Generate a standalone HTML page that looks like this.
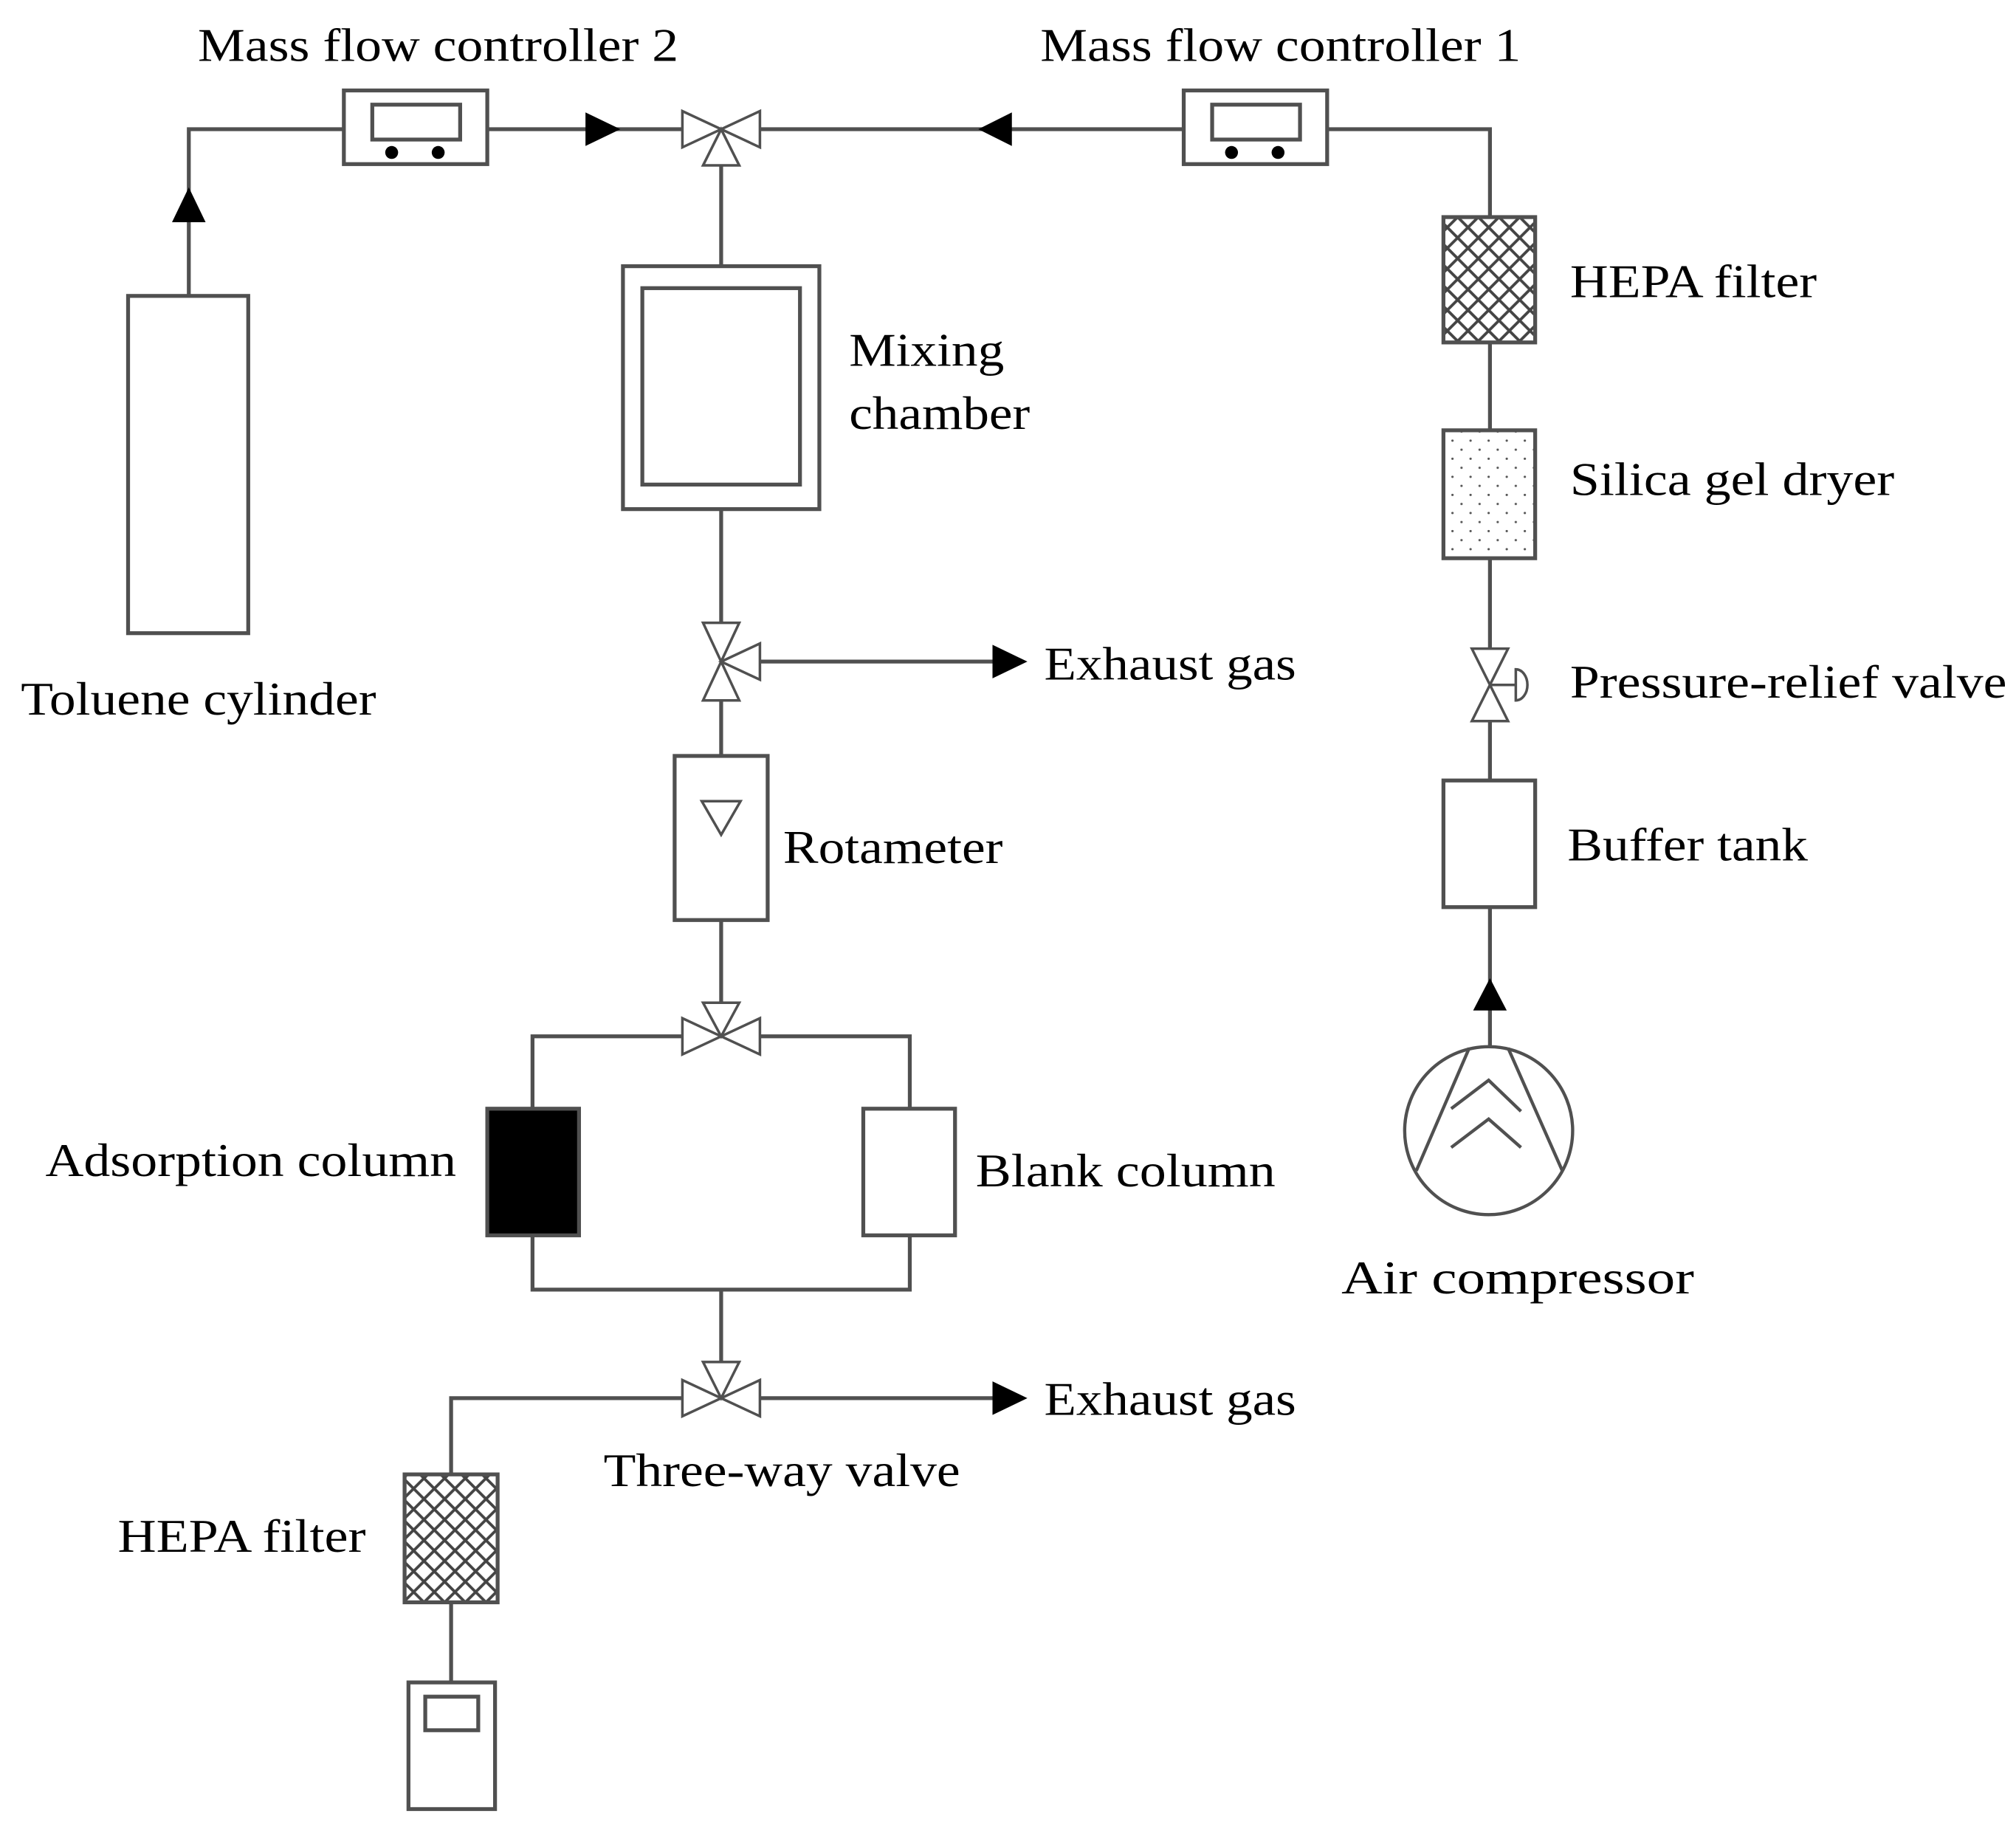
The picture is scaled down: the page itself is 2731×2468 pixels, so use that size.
<!DOCTYPE html>
<html><head><meta charset="utf-8"><style>html,body{margin:0;padding:0;background:#fff}svg{display:block}
svg text{font-family:"Liberation Serif","Times New Roman",serif;}</style></head>
<body>
<svg width="2731" height="2468" viewBox="0 0 1560 1410" xmlns="http://www.w3.org/2000/svg">
<defs>
<pattern id="hatch" width="16" height="16" patternUnits="userSpaceOnUse">
<path d="M0,0 L16,16 M16,0 L0,16" stroke="#444" stroke-width="2.2"/>
</pattern>
<pattern id="dots" width="14" height="14" patternUnits="userSpaceOnUse">
<circle cx="4" cy="5" r="0.9" fill="#555"/><circle cx="11" cy="12" r="0.9" fill="#555"/>
</pattern>
</defs>
<g stroke="#505050" stroke-width="3" fill="none">
<rect x="99" y="229" width="93" height="261" fill="#fff"/>
<polyline points="146,229 146,100 266,100"/>
<rect x="266" y="70" width="111" height="57"/>
<rect x="288" y="81" width="68" height="27"/>
<line x1="377" y1="100" x2="528" y2="100"/>
<path d="M528,86 L528,114 L588,86 L588,114 Z" stroke-width="2"/>
<path d="M558,100 L544,128 L572,128 Z" stroke-width="2"/>
<line x1="588" y1="100" x2="916" y2="100"/>
<rect x="916" y="70" width="111" height="57"/>
<rect x="938" y="81" width="68" height="27"/>
<polyline points="1027,100 1153,100 1153,168"/>
<rect x="1117" y="168" width="71" height="97" fill="url(#hatch)"/>
<line x1="1153" y1="265" x2="1153" y2="333"/>
<rect x="1117" y="333" width="71" height="99" fill="url(#dots)"/>
<line x1="1153" y1="432" x2="1153" y2="502"/>
<path d="M1139,502 L1167,502 L1139,558 L1167,558 Z" stroke-width="2"/>
<line x1="1153" y1="530" x2="1173" y2="530" stroke-width="2"/>
<path d="M1173,518 A9,12 0 0 1 1173,542 Z" stroke-width="2"/>
<line x1="1153" y1="558" x2="1153" y2="604"/>
<rect x="1117" y="604" width="71" height="98"/>
<line x1="1153" y1="702" x2="1153" y2="810"/>
<circle cx="1152" cy="875" r="65" stroke-width="2.5"/>
<path d="M1137,811 L1096,906 M1167,811 L1209,906 M1123,858 L1152,836 L1177,860 M1123,888 L1152,866 L1177,888" stroke-width="2.5"/>
<line x1="558" y1="128" x2="558" y2="206"/>
<rect x="482" y="206" width="152" height="188"/>
<rect x="497" y="223" width="122" height="152"/>
<line x1="558" y1="394" x2="558" y2="482"/>
<path d="M544,482 L572,482 L544,542 L572,542 Z" stroke-width="2"/>
<path d="M558,512 L588,498 L588,526 Z" stroke-width="2"/>
<line x1="588" y1="512" x2="770" y2="512"/>
<line x1="558" y1="542" x2="558" y2="585"/>
<rect x="522" y="585" width="72" height="127"/>
<path d="M543,620 L573,620 L558,646 Z" stroke-width="2"/>
<line x1="558" y1="712" x2="558" y2="776"/>
<path d="M528,788 L528,816 L588,788 L588,816 Z" stroke-width="2"/>
<path d="M558,802 L544,776 L572,776 Z" stroke-width="2"/>
<polyline points="528,802 412,802 412,858"/>
<polyline points="588,802 704,802 704,858"/>
<rect x="377" y="858" width="71" height="98" fill="#000"/>
<rect x="668" y="858" width="71" height="98"/>
<polyline points="412,956 412,998 704,998 704,956"/>
<line x1="558" y1="998" x2="558" y2="1054"/>
<path d="M528,1068 L528,1096 L588,1068 L588,1096 Z" stroke-width="2"/>
<path d="M558,1082 L544,1054 L572,1054 Z" stroke-width="2"/>
<line x1="588" y1="1082" x2="770" y2="1082"/>
<polyline points="528,1082 349,1082 349,1141"/>
<rect x="313" y="1141" width="72" height="99" fill="url(#hatch)"/>
<line x1="349" y1="1240" x2="349" y2="1302"/>
<rect x="316" y="1302" width="67" height="98"/>
<rect x="329" y="1313" width="41" height="26"/>
</g>
<g fill="#000">
<circle cx="303" cy="118" r="5"/><circle cx="339" cy="118" r="5"/>
<circle cx="953" cy="118" r="5"/><circle cx="989" cy="118" r="5"/>
<path d="M146,145 L133,172 L159,172 Z"/>
<path d="M480,100 L453,87 L453,113 Z"/>
<path d="M757,100 L783,87 L783,113 Z"/>
<path d="M1153,757 L1140,782 L1166,782 Z"/>
<path d="M795,512 L768,499 L768,525 Z"/>
<path d="M795,1082 L768,1069 L768,1095 Z"/>
</g>
<g style="font-family:'Liberation Serif','Times New Roman',serif;font-size:36px" fill="#000">
<text x="153" y="47" textLength="372" lengthAdjust="spacingAndGlyphs">Mass flow controller 2</text>
<text x="805" y="47" textLength="372" lengthAdjust="spacingAndGlyphs">Mass flow controller 1</text>
<text x="1215" y="230" textLength="191" lengthAdjust="spacingAndGlyphs">HEPA filter</text>
<text x="657" y="283" textLength="120" lengthAdjust="spacingAndGlyphs">Mixing</text>
<text x="657" y="332" textLength="140" lengthAdjust="spacingAndGlyphs">chamber</text>
<text x="1215" y="383" textLength="251" lengthAdjust="spacingAndGlyphs">Silica gel dryer</text>
<text x="808" y="526" textLength="195" lengthAdjust="spacingAndGlyphs">Exhaust gas</text>
<text x="1215" y="540" textLength="338" lengthAdjust="spacingAndGlyphs">Pressure-relief valve</text>
<text x="16" y="553" textLength="275" lengthAdjust="spacingAndGlyphs">Toluene cylinder</text>
<text x="606" y="668" textLength="170" lengthAdjust="spacingAndGlyphs">Rotameter</text>
<text x="1213" y="666" textLength="186" lengthAdjust="spacingAndGlyphs">Buffer tank</text>
<text x="35" y="910" textLength="318" lengthAdjust="spacingAndGlyphs">Adsorption column</text>
<text x="755" y="918" textLength="232" lengthAdjust="spacingAndGlyphs">Blank column</text>
<text x="1038" y="1001" textLength="273" lengthAdjust="spacingAndGlyphs">Air compressor</text>
<text x="808" y="1095" textLength="195" lengthAdjust="spacingAndGlyphs">Exhaust gas</text>
<text x="467" y="1150" textLength="276" lengthAdjust="spacingAndGlyphs">Three-way valve</text>
<text x="91" y="1201" textLength="192" lengthAdjust="spacingAndGlyphs">HEPA filter</text>
</g>
</svg>
</body></html>
